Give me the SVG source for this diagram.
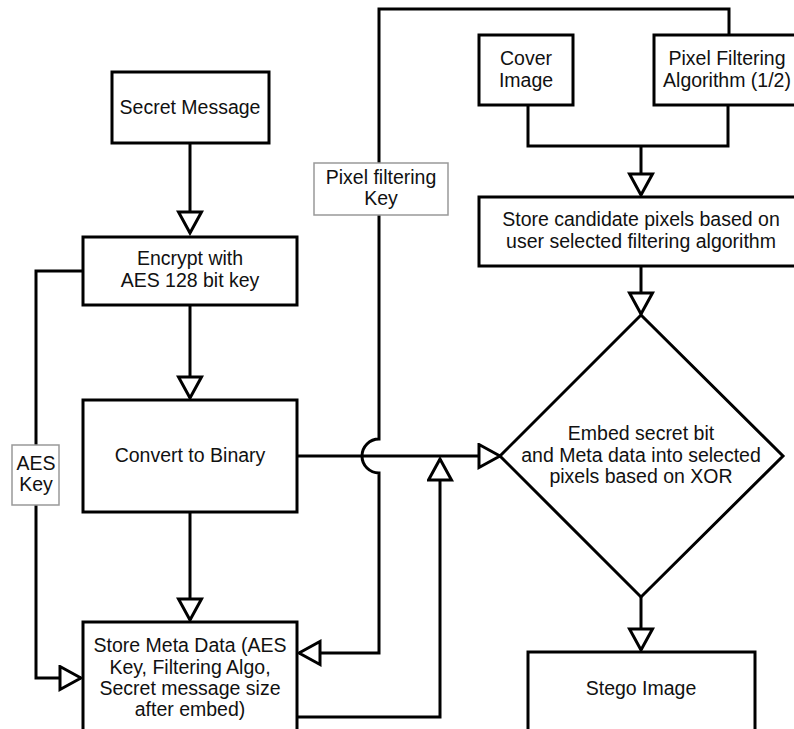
<svg xmlns="http://www.w3.org/2000/svg" width="794" height="729" viewBox="0 0 794 729">
  <defs>
    <marker id="open-arrow" markerUnits="userSpaceOnUse" markerWidth="26" markerHeight="28" viewBox="-2 -2 26 28" refX="21" refY="11.5" orient="auto">
      <path d="M0,0 L21,11.5 L0,23 Z" fill="#fff" stroke="#000" stroke-width="3" stroke-linejoin="miter"/>
    </marker>
  </defs>
  <style>
    .box { fill: #fff; stroke: #000; stroke-width: 3; }
    .tag { fill: #fff; stroke: #999; stroke-width: 1.5; }
    .wire { fill: none; stroke: #000; stroke-width: 3; }
    .arrow { marker-end: url(#open-arrow); }
    text { font-family: "Liberation Sans", Arial, sans-serif; font-size: 19.5px; fill: #111; text-anchor: middle; }
  </style>
  <rect width="794" height="729" fill="#fff"/>

  <!-- connectors -->
  <g id="connectors">
    <path class="wire arrow" d="M190,143 V233"/>
    <path class="wire arrow" d="M190,305 V398"/>
    <path class="wire arrow" d="M190,512 V620"/>
    <!-- AES key route to meta data store -->
    <path class="wire arrow" d="M83,271 H36 V678 H81"/>
    <!-- binary data to embedding step -->
    <path class="wire arrow" d="M297,456 H500"/>
    <!-- meta data back up into embedding line -->
    <path class="wire arrow" d="M297,717 H440 V459"/>
    <!-- pixel filtering key, hopping over the binary line -->
    <path class="wire arrow" d="M729,35 V9 H379 V439 A17,17 0 0 0 379,473 V653 H299"/>
    <!-- cover image and algorithm merge -->
    <path class="wire" d="M528,105 V146 H728 V105"/>
    <path class="wire arrow" d="M641,146 V195"/>
    <path class="wire arrow" d="M641,266 V314"/>
    <path class="wire arrow" d="M641,597 V650"/>
  </g>

  <!-- edge labels -->
  <g id="label-aes-key">
    <rect class="tag" x="12" y="445" width="47" height="60"/>
    <text x="36" y="470">AES</text>
    <text x="36" y="491">Key</text>
  </g>
  <g id="label-pixel-key">
    <rect class="tag" x="314" y="163" width="134" height="52"/>
    <text x="381" y="184">Pixel filtering</text>
    <text x="381" y="205">Key</text>
  </g>

  <!-- nodes -->
  <g id="secret-message">
    <rect class="box" x="112" y="72" width="157" height="71"/>
    <text x="190" y="114">Secret Message</text>
  </g>
  <g id="encrypt">
    <rect class="box" x="83" y="237" width="214" height="68"/>
    <text x="190" y="265">Encrypt with</text>
    <text x="190" y="287">AES 128 bit key</text>
  </g>
  <g id="convert-binary">
    <rect class="box" x="83" y="400" width="214" height="112"/>
    <text x="190" y="462">Convert to Binary</text>
  </g>
  <g id="store-meta">
    <rect class="box" x="83" y="622" width="214" height="130"/>
    <text x="190" y="652">Store Meta Data (AES</text>
    <text x="190" y="674">Key, Filtering Algo,</text>
    <text x="190" y="695">Secret message size</text>
    <text x="190" y="716">after embed)</text>
  </g>
  <g id="cover-image">
    <rect class="box" x="479" y="35" width="94" height="70"/>
    <text x="526" y="65">Cover</text>
    <text x="526" y="87">Image</text>
  </g>
  <g id="pixel-filtering-algorithm">
    <rect class="box" x="654" y="35" width="160" height="70"/>
    <text x="727" y="65">Pixel Filtering</text>
    <text x="727" y="87">Algorithm (1/2)</text>
  </g>
  <g id="store-candidates">
    <rect class="box" x="479" y="197" width="330" height="69"/>
    <text x="641" y="226">Store candidate pixels based on</text>
    <text x="641" y="248">user selected filtering algorithm</text>
  </g>
  <g id="embed">
    <polygon class="box" points="641,315 783,456 641,597 500,456"/>
    <text x="641" y="440">Embed secret bit</text>
    <text x="641" y="462">and Meta data into selected</text>
    <text x="641" y="483">pixels based on XOR</text>
  </g>
  <g id="stego-image">
    <rect class="box" x="528" y="652" width="227" height="90"/>
    <text x="641" y="695">Stego Image</text>
  </g>
</svg>
